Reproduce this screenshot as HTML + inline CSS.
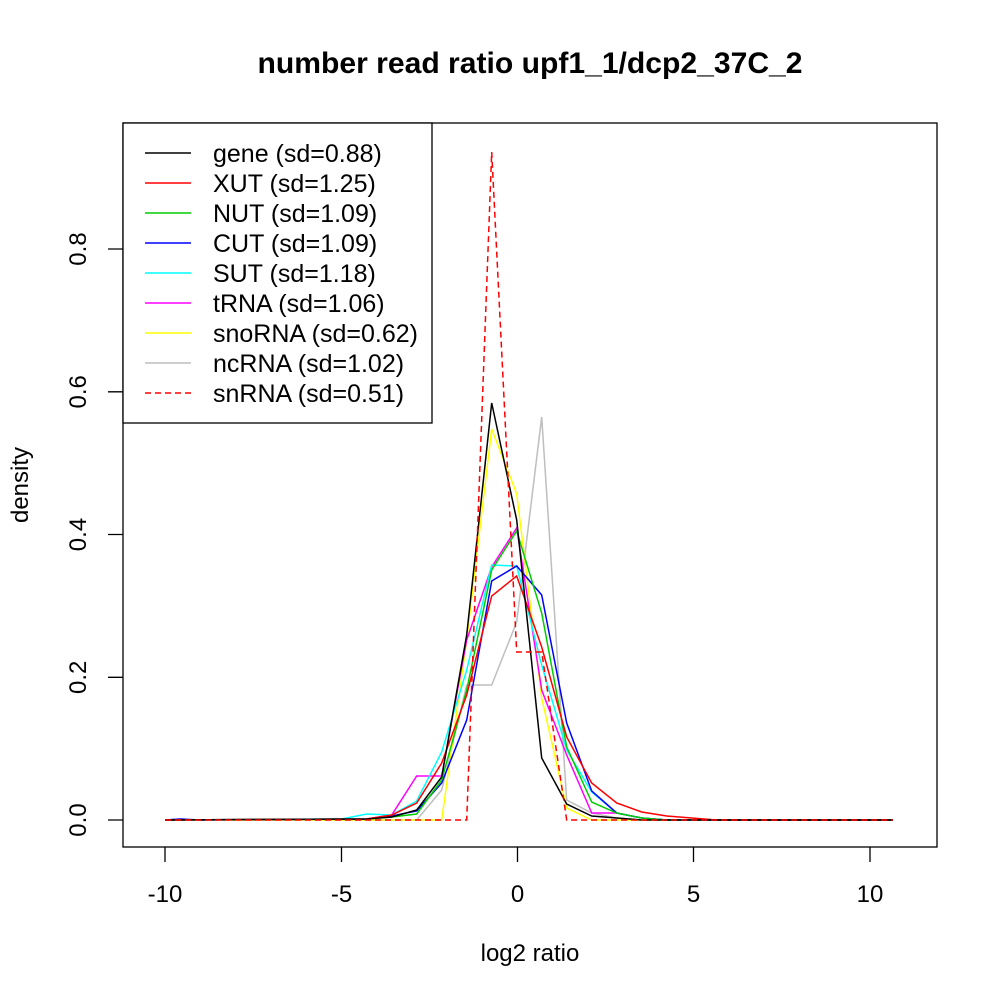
<!DOCTYPE html>
<html><head><style>body{margin:0;background:#fff}svg{display:block}text{font-family:"Liberation Sans",sans-serif}</style></head><body>
<svg width="1000" height="1000" viewBox="0 0 1000 1000" xmlns="http://www.w3.org/2000/svg">
<rect width="1000" height="1000" fill="#fff"/>
<text x="530" y="73" font-size="30" font-weight="bold" text-anchor="middle" textLength="545" lengthAdjust="spacingAndGlyphs">number read ratio upf1_1/dcp2_37C_2</text>
<g stroke="#000" stroke-width="1.3" fill="none">
<rect x="123" y="123" width="814" height="724"/>
<path d="M165 847v15M341.5 847v15M517.5 847v15M693.5 847v15M870 847v15"/>
<path d="M123 820h-15M123 677.3h-15M123 534.5h-15M123 391.8h-15M123 249h-15"/>
</g>
<g font-size="24" text-anchor="middle">
<text x="165" y="902">-10</text><text x="341.5" y="902">-5</text><text x="517.5" y="902">0</text><text x="693.5" y="902">5</text><text x="870" y="902">10</text>
<text transform="translate(86,820) rotate(-90)">0.0</text>
<text transform="translate(86,677.3) rotate(-90)">0.2</text>
<text transform="translate(86,534.5) rotate(-90)">0.4</text>
<text transform="translate(86,391.8) rotate(-90)">0.6</text>
<text transform="translate(86,249) rotate(-90)">0.8</text>
<text x="530" y="961">log2 ratio</text>
<text transform="translate(28,485) rotate(-90)">density</text>
</g>
<g fill="none" stroke-width="1.5">
<polyline stroke="#bebebe" points="165,820 391.7,820 416.7,820 441.7,790 466.7,685 491.7,685 516.7,622 541.7,417 566.7,800 591.7,813 616.7,818 641.7,820 893,820"/>
<polyline stroke="#ffff00" points="165,820 416.7,820 441.7,820 466.7,640 491.7,429 516.7,494 541.7,698 566.7,808 591.7,820 893,820"/>
<polyline stroke="#ff00ff" points="165,820 366.7,819 391.7,815 416.7,776 441.7,776 466.7,640 491.7,567 516.7,528 541.7,690 566.7,755 591.7,813 616.7,813 641.7,818 666.7,820 893,820"/>
<polyline stroke="#00ffff" points="165,820 341.7,819 366.7,814 391.7,815 416.7,801 441.7,752 466.7,670 491.7,565 516.7,566 541.7,665 566.7,750 591.7,792 616.7,813 641.7,818 666.7,820 893,820"/>
<polyline stroke="#0000ff" points="165,820 180,819 200,820 366.7,819 391.7,816 416.7,811 441.7,783 466.7,720 491.7,581 516.7,566 541.7,595 566.7,723 591.7,791 616.7,813 641.7,818 666.7,820 893,820"/>
<polyline stroke="#00cd00" points="165,820 366.7,819 391.7,817 416.7,814 441.7,780 466.7,690 491.7,570 516.7,531 541.7,613 566.7,747 591.7,802 616.7,813 641.7,818 666.7,820 893,820"/>
<polyline stroke="#ff0000" points="165,820 366.7,819 391.7,815 416.7,803 441.7,763 466.7,695 491.7,596 516.7,576 541.7,647 566.7,737 591.7,783 616.7,803 641.7,812 666.7,816 691.7,818 716.7,820 893,820"/>
<polyline stroke="#000" points="165,820 366.7,819 391.7,817 416.7,810 441.7,777 466.7,635 491.7,403 516.7,520 541.7,758 566.7,804 591.7,816 616.7,818 641.7,820 893,820"/>
<polyline stroke="#ff0000" stroke-dasharray="6,4" points="165,820 466.7,820 491.7,152 516.7,652 541.7,652 566.7,820 893,820"/>
</g>
<rect x="123" y="123" width="309" height="300" fill="#fff" stroke="#000" stroke-width="1.3"/>
<g stroke-width="1.5">
<line x1="145" x2="191" y1="153" y2="153" stroke="#000"/>
<line x1="145" x2="191" y1="183" y2="183" stroke="#ff0000"/>
<line x1="145" x2="191" y1="213" y2="213" stroke="#00cd00"/>
<line x1="145" x2="191" y1="243" y2="243" stroke="#0000ff"/>
<line x1="145" x2="191" y1="273" y2="273" stroke="#00ffff"/>
<line x1="145" x2="191" y1="303" y2="303" stroke="#ff00ff"/>
<line x1="145" x2="191" y1="333" y2="333" stroke="#ffff00"/>
<line x1="145" x2="191" y1="363" y2="363" stroke="#bebebe"/>
<line x1="145" x2="191" y1="393" y2="393" stroke="#ff0000" stroke-dasharray="6,4"/>
</g>
<g font-size="25">
<text x="213" y="162">gene (sd=0.88)</text>
<text x="213" y="192">XUT (sd=1.25)</text>
<text x="213" y="222">NUT (sd=1.09)</text>
<text x="213" y="252">CUT (sd=1.09)</text>
<text x="213" y="282">SUT (sd=1.18)</text>
<text x="213" y="312">tRNA (sd=1.06)</text>
<text x="213" y="342">snoRNA (sd=0.62)</text>
<text x="213" y="372">ncRNA (sd=1.02)</text>
<text x="213" y="402">snRNA (sd=0.51)</text>
</g>
</svg>
</body></html>
